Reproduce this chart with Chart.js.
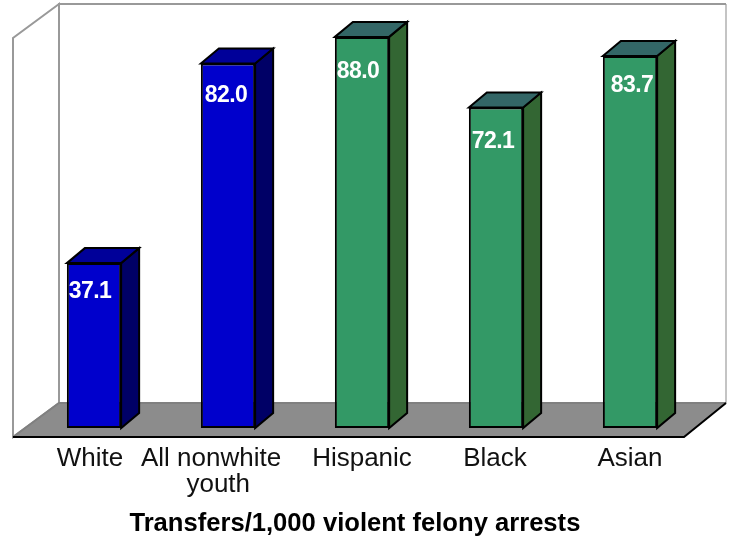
<!DOCTYPE html>
<html>
<head>
<meta charset="utf-8">
<script src="https://cdn.jsdelivr.net/npm/chart.js@4"></script>
<style>
  body { margin: 0; background: #fff; }
  canvas { display: block; }
</style>
</head>
<body>
<canvas id="transfersChart" width="729" height="539"></canvas>
<script>
const categories = ['White', ['All nonwhite', '  youth'], 'Hispanic', 'Black', 'Asian'];
const transfers = [37.1, 82.0, 88.0, 72.1, 83.7];
// trailing spaces pull the centred title a little left, as in the picture
const axisTitle = 'Transfers/1,000 violent felony arrests  ';

const frontColors = ['#0000cc', '#0000cc', '#339966', '#339966', '#339966'];
const sideColors = ['#000066', '#000066', '#336633', '#336633', '#336633'];
const topColors = ['#000099', '#000099', '#336666', '#336666', '#336666'];

// small shifts, the labels in the picture are not quite centred on the bars
const tickNudge = [-4, -17, 0, -1, 0];
const valueNudge = [-4, -2, -4, -3, 2];
const valueDrop = [29, 32, 35, 34, 30];

const fontFamily = '"Liberation Sans", Arial, sans-serif';
const barDepthX = 18;
const barDepthY = 15;

function poly(ctx, pts, fill, stroke, width) {
  ctx.beginPath();
  pts.forEach((p, i) => i ? ctx.lineTo(p[0], p[1]) : ctx.moveTo(p[0], p[1]));
  ctx.closePath();
  if (fill) { ctx.fillStyle = fill; ctx.fill(); }
  if (stroke) { ctx.strokeStyle = stroke; ctx.lineWidth = width; ctx.stroke(); }
}

// walls and floor of the 3d box
const boxPlugin = {
  id: 'box',
  beforeDraw(chart) {
    const ctx = chart.ctx;
    const scale = chart.scales.x;
    scale.getLabelItems(chart.chartArea).forEach((item, i) => {
      item.options.translation[0] = scale.getPixelForTick(i) + tickNudge[i];
    });
    const a = chart.chartArea;
    const floorY = a.bottom - 25;
    const frontY = a.bottom + 9;
    const backL = 59, backR = 726, frontL = 13, frontR = 684;
    ctx.save();
    ctx.lineJoin = 'miter';
    poly(ctx, [[backL, 4], [frontL, 38], [frontL, frontY], [backL, floorY]], null, '#999999', 2);
    ctx.strokeStyle = '#c4c4c4';
    ctx.lineWidth = 2;
    ctx.beginPath();
    ctx.moveTo(backR, 4);
    ctx.lineTo(backR, floorY);
    ctx.stroke();
    ctx.strokeStyle = '#999999';
    ctx.beginPath();
    ctx.moveTo(backL, floorY);
    ctx.lineTo(backL, 4);
    ctx.lineTo(backR, 4);
    ctx.stroke();
    poly(ctx, [[frontL, frontY], [backL, floorY], [backR, floorY], [frontR, frontY]], '#8c8c8c');
    ctx.strokeStyle = '#808080';
    ctx.beginPath();
    ctx.moveTo(frontL, frontY);
    ctx.lineTo(backL, floorY);
    ctx.lineTo(backR, floorY);
    ctx.stroke();
    ctx.strokeStyle = '#000';
    ctx.beginPath();
    ctx.moveTo(frontL, frontY);
    ctx.lineTo(frontR, frontY);
    ctx.lineTo(backR, floorY);
    ctx.stroke();
    ctx.restore();
  }
};

// side and top faces plus the value text, taken from the bars the library placed
const faces3dPlugin = {
  id: 'faces3d',
  afterDatasetsDraw(chart) {
    const ctx = chart.ctx;
    ctx.save();
    chart.getDatasetMeta(0).data.forEach((bar, i) => {
      const left = bar.x - bar.width / 2;
      const right = bar.x + bar.width / 2;
      const dx = barDepthX, dy = barDepthY;
      poly(ctx, [[right, bar.y], [right + dx, bar.y - dy], [right + dx, bar.base - dy], [right, bar.base]], sideColors[i], '#000', 2);
      poly(ctx, [[left, bar.y], [left + dx, bar.y - dy], [right + dx, bar.y - dy], [right, bar.y]], topColors[i], '#000', 2);
      ctx.fillStyle = '#fff';
      ctx.font = 'bold 23px ' + fontFamily;
      ctx.letterSpacing = '-0.6px';
      ctx.textAlign = 'center';
      ctx.textBaseline = 'middle';
      ctx.fillText(transfers[i].toFixed(1), bar.x + valueNudge[i], bar.y + valueDrop[i]);
    });
    ctx.restore();
  }
};

new Chart(document.getElementById('transfersChart').getContext('2d'), {
  type: 'bar',
  data: {
    labels: categories,
    datasets: [{
      data: transfers,
      backgroundColor: frontColors,
      borderColor: '#000',
      borderWidth: 2,
      borderSkipped: false,
      barPercentage: 0.405,
      categoryPercentage: 1
    }]
  },
  options: {
    responsive: false,
    animation: false,
    layout: { padding: { left: 27, right: 32, top: 28, bottom: 0 } },
    plugins: { legend: { display: false }, tooltip: { enabled: false } },
    scales: {
      x: {
        grid: { display: false },
        border: { display: false },
        afterFit(scale) { scale.height = 111; },
        ticks: {
          color: '#111',
          padding: 10,
          autoSkip: false,
          maxRotation: 0,
          font: { family: fontFamily, size: 26, lineHeight: 1 }
        },
        title: {
          display: true,
          text: axisTitle,
          color: '#000',
          padding: { top: 0, bottom: 0 },
          font: { family: fontFamily, size: 25.6, weight: 'bold' }
        }
      },
      y: { display: false, min: 0, max: 90 }
    }
  },
  plugins: [boxPlugin, faces3dPlugin]
});
</script>
</body>
</html>
